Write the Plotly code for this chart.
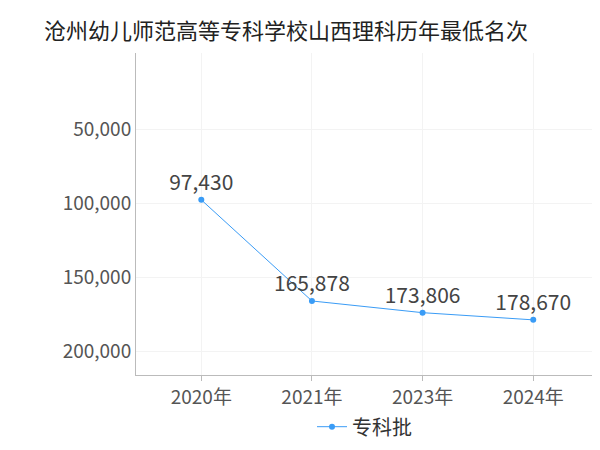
import plotly.graph_objects as go

years = ["2020年", "2021年", "2023年", "2024年"]
ranks = [97430, 165878, 173806, 178670]
labels = ["97,430", "165,878", "173,806", "178,670"]

fig = go.Figure()
fig.add_trace(go.Scatter(
    x=years, y=ranks, mode="lines+markers+text", name="专科批",
    text=labels, textposition="top center",
    textfont=dict(size=21, color="#444"),
    line=dict(color="#3a9cf6", width=1), marker=dict(size=6, color="#3a9cf6"),
))
fig.update_layout(
    width=600, height=450, plot_bgcolor="white", paper_bgcolor="white",
    font=dict(family="Noto Sans CJK SC", color="#555"),
    title=dict(text="沧州幼儿师范高等专科学校山西理科历年最低名次", x=0.06, xanchor="left", y=0.965,
               font=dict(size=22, color="#222")),
    margin=dict(l=128, r=15, t=45, b=80),
    showlegend=True,
    legend=dict(orientation="h", x=0.5, xanchor="center", y=-0.1, yanchor="top",
                font=dict(size=20, color="#333")),
    xaxis=dict(showline=True, linecolor="#bbb", tickfont=dict(size=19),
               range=[-0.59, 3.54],
               showgrid=True, gridcolor="#f3f3f3", ticks="outside", tickcolor="#bbb"),
    yaxis=dict(autorange=False, range=[216000, -2000], showline=True, linecolor="#bbb",
               tickvals=[50000, 100000, 150000, 200000], tickformat=",",
               tickfont=dict(size=19), showgrid=True, gridcolor="#f3f3f3", zeroline=False),
)
fig.write_html("out.html")
